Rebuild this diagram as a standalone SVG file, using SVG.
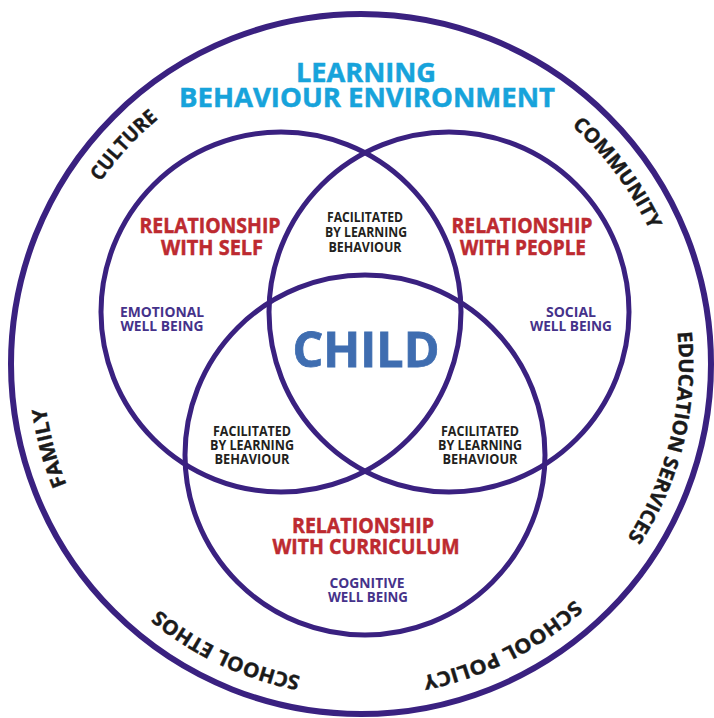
<svg xmlns="http://www.w3.org/2000/svg" xmlns:xlink="http://www.w3.org/1999/xlink" width="714" height="718" viewBox="0 0 714 718">
<style>
  .ring { fill: none; stroke: #3a2180; stroke-width: 5; }
  .outer { fill: none; stroke: #3a2180; stroke-width: 6; }
  text { font-family: "Open Sans", "Liberation Sans", Arial, sans-serif; font-weight: bold; text-anchor: middle; }
  .title { fill: #17a3db; stroke: #17a3db; stroke-width: 0.5; font-size: 26px; }
  .rel { fill: #bd2a30; stroke: #bd2a30; stroke-width: 0.5; font-size: 22px; }
  .fac { fill: #231f20; font-size: 13.5px; }
  .well { fill: #45328a; font-size: 13.5px; }
  .child { fill: #3f6db0; stroke: #3f6db0; stroke-width: 0.8; font-size: 49px; }
  .ringtxt { fill: #1a1a1a; stroke: #1a1a1a; stroke-width: 0.4; font-size: 20px; }
</style>
<defs>
  <path id="lblpath" d="M 361,682 A 318,318 0 1,1 361,46 A 318,318 0 1,1 361,682"/>
</defs>
<rect width="714" height="718" fill="#ffffff"/>
<g id="environment">
  <circle class="outer" cx="361" cy="364" r="350"/>
  <text class="title" x="366" y="82" textLength="140" lengthAdjust="spacingAndGlyphs">LEARNING</text>
  <text class="title" x="367" y="107" textLength="376" lengthAdjust="spacingAndGlyphs">BEHAVIOUR ENVIRONMENT</text>
  <text class="ringtxt"><textPath xlink:href="#lblpath" href="#lblpath" startOffset="7.0%" textLength="158" lengthAdjust="spacingAndGlyphs">SCHOOL ETHOS</textPath></text>
  <text class="ringtxt"><textPath xlink:href="#lblpath" href="#lblpath" startOffset="20.8%" textLength="80" lengthAdjust="spacingAndGlyphs">FAMILY</textPath></text>
  <text class="ringtxt"><textPath xlink:href="#lblpath" href="#lblpath" startOffset="36.85%" textLength="86" lengthAdjust="spacingAndGlyphs">CULTURE</textPath></text>
  <text class="ringtxt"><textPath xlink:href="#lblpath" href="#lblpath" startOffset="64.8%" textLength="131" lengthAdjust="spacingAndGlyphs">COMMUNITY</textPath></text>
  <text class="ringtxt"><textPath xlink:href="#lblpath" href="#lblpath" startOffset="78.8%" textLength="216" lengthAdjust="spacingAndGlyphs">EDUCATION SERVICES</textPath></text>
  <text class="ringtxt"><textPath xlink:href="#lblpath" href="#lblpath" startOffset="92.6%" textLength="172" lengthAdjust="spacingAndGlyphs">SCHOOL POLICY</textPath></text>
</g>
<g id="connectors">
  <circle id="self-ring" class="ring" cx="281" cy="312" r="180"/>
  <circle id="people-ring" class="ring" cx="449" cy="312" r="180"/>
  <circle id="curriculum-ring" class="ring" cx="365" cy="455" r="180"/>
</g>
<g id="self">
  <text class="rel" x="210" y="233" textLength="141" lengthAdjust="spacingAndGlyphs">RELATIONSHIP</text>
  <text class="rel" x="212" y="255" textLength="102" lengthAdjust="spacingAndGlyphs">WITH SELF</text>
  <text class="well" x="162" y="317" textLength="84" lengthAdjust="spacingAndGlyphs">EMOTIONAL</text>
  <text class="well" x="162" y="331" textLength="83" lengthAdjust="spacingAndGlyphs">WELL BEING</text>
</g>
<g id="people">
  <text class="rel" x="522" y="233" textLength="141" lengthAdjust="spacingAndGlyphs">RELATIONSHIP</text>
  <text class="rel" x="523" y="255" textLength="126" lengthAdjust="spacingAndGlyphs">WITH PEOPLE</text>
  <text class="well" x="571" y="317" textLength="50" lengthAdjust="spacingAndGlyphs">SOCIAL</text>
  <text class="well" x="571" y="331" textLength="82" lengthAdjust="spacingAndGlyphs">WELL BEING</text>
</g>
<g id="curriculum">
  <text class="rel" x="363" y="533" textLength="142" lengthAdjust="spacingAndGlyphs">RELATIONSHIP</text>
  <text class="rel" x="366" y="554" textLength="187" lengthAdjust="spacingAndGlyphs">WITH CURRICULUM</text>
  <text class="well" x="367" y="588" textLength="75" lengthAdjust="spacingAndGlyphs">COGNITIVE</text>
  <text class="well" x="368" y="602" textLength="80" lengthAdjust="spacingAndGlyphs">WELL BEING</text>
</g>
<g id="facilitated-top">
  <text class="fac" x="365" y="222" textLength="76" lengthAdjust="spacingAndGlyphs">FACILITATED</text>
  <text class="fac" x="366" y="237" textLength="82" lengthAdjust="spacingAndGlyphs">BY LEARNING</text>
  <text class="fac" x="365" y="252" textLength="73" lengthAdjust="spacingAndGlyphs">BEHAVIOUR</text>
</g>
<g id="facilitated-left">
  <text class="fac" x="252" y="436" textLength="78" lengthAdjust="spacingAndGlyphs">FACILITATED</text>
  <text class="fac" x="252" y="450" textLength="84" lengthAdjust="spacingAndGlyphs">BY LEARNING</text>
  <text class="fac" x="252" y="464" textLength="75" lengthAdjust="spacingAndGlyphs">BEHAVIOUR</text>
</g>
<g id="facilitated-right">
  <text class="fac" x="480" y="436" textLength="78" lengthAdjust="spacingAndGlyphs">FACILITATED</text>
  <text class="fac" x="480" y="450" textLength="84" lengthAdjust="spacingAndGlyphs">BY LEARNING</text>
  <text class="fac" x="480" y="464" textLength="75" lengthAdjust="spacingAndGlyphs">BEHAVIOUR</text>
</g>
<g id="child">
  <text class="child" x="366" y="367" textLength="147" lengthAdjust="spacingAndGlyphs">CHILD</text>
</g>
</svg>
